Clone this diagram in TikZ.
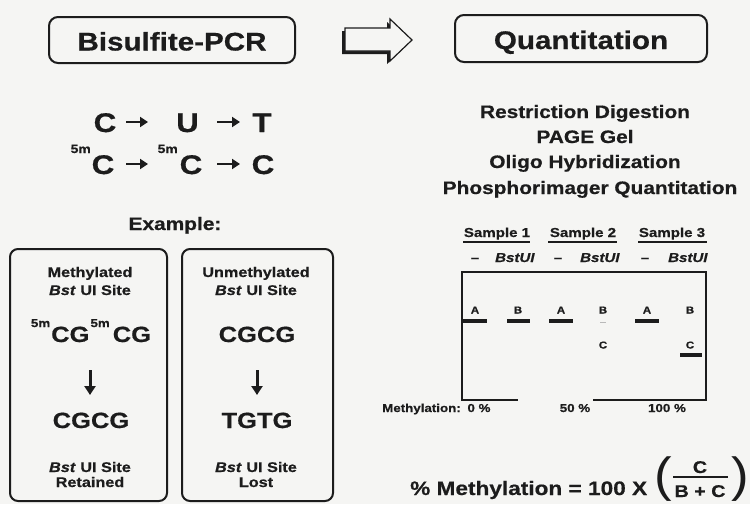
\documentclass[tikz,border=0pt]{standalone}
\usepackage{fontspec}
\setmainfont{Liberation Sans}[FakeStretch=1.16, FakeBold=0.6]
\newfontfamily\parenfont{Liberation Sans}[FakeStretch=1.1]
\usetikzlibrary{arrows.meta}
\definecolor{ink}{HTML}{1C1C1C}
\definecolor{paper}{HTML}{F5F5F3}
\newcommand{\fsz}[1]{\fontsize{#1}{#1}\selectfont}
\newcommand{\fivem}[1]{\raisebox{0.68em}{\fsz{#1}5m}}
\begin{document}
\begin{tikzpicture}[x=1pt,y=-1pt,
  txt/.style={inner sep=0pt, text=ink, font=\bfseries},
  ttl/.style={draw=ink, line width=2pt, rounded corners=9pt, inner sep=0pt, text=ink, text height=21pt, text depth=0pt},
  panel/.style={draw=ink, line width=2pt, rounded corners=8pt, inner sep=0pt},
  arr/.style={draw=ink, line width=2.6pt, -{Triangle[length=8pt,width=10pt]}},
  varr/.style={draw=ink, line width=3pt, -{Triangle[length=9pt,width=11pt]}},
  band/.style={draw=ink, line width=4pt},
  gel/.style={draw=ink, line width=1.8pt},
  big/.style={txt, font=\bfseries\fsz{27}, anchor=base},
  sm/.style={txt, font=\bfseries\fsz{14}, anchor=base},
  mid/.style={txt, font=\bfseries\fsz{22}, anchor=base},
  lst/.style={txt, font=\bfseries\fsz{18}, anchor=base},
  smp/.style={txt, font=\bfseries\fsz{13}, anchor=base},
  lbl/.style={txt, font=\bfseries\fsz{10}, anchor=base},
  pct/.style={txt, font=\bfseries\fsz{11.5}, anchor=base},
]
\fill[paper] (0,0) rectangle (750,504);
\useasboundingbox (0,0) rectangle (750,504);

% titles
\node[ttl, minimum width=246pt, minimum height=46pt, font=\bfseries\fsz{25.5}] (bis) at (172,40) {Bisulfite-PCR};
\node[ttl, minimum width=252pt, minimum height=47pt, font=\bfseries\fsz{25.5}] (quant) at (581,38.5) {Quantitation};

% hollow arrow
\fill[ink] (342,31) -- (387,31) -- (387,22) -- (409,43) -- (387,64) -- (387,54) -- (342,54) -- cycle;
\filldraw[fill=paper, draw=ink, line width=1.2pt] (345,28) -- (390,28) -- (390,19) -- (412,40) -- (390,61) -- (390,51) -- (345,51) -- cycle;

% conversions
\node[big] (c1) at (105,132) {C};
\node[big] (u1) at (187.5,132) {U};
\node[big] (t1) at (262,132) {T};
\node[txt, font=\bfseries\fsz{12}, anchor=base east] (m1) at (91,153) {5m};
\node[big] (c2) at (103,174) {C};
\node[txt, font=\bfseries\fsz{12}, anchor=base east] (m2) at (178,153) {5m};
\node[big] (c3) at (191,174) {C};
\node[big] (c4) at (263,174) {C};
\coordinate (p1) at (126,122); \coordinate (p2) at (148,122);
\coordinate (p3) at (217,122); \coordinate (p4) at (240,122);
\coordinate (q1) at (126,164); \coordinate (q2) at (148,164);
\coordinate (q3) at (217,164); \coordinate (q4) at (240,164);
\draw[arr] (p1) -- (p2);
\draw[arr] (p3) -- (p4);
\draw[arr] (q1) -- (q2);
\draw[arr] (q3) -- (q4);

% example
\node[txt, font=\bfseries\fsz{18}, anchor=base] (ex) at (175,230) {Example:};
\node[panel, minimum width=157pt, minimum height=252pt] (lbox) at (88.5,375) {};
\node[panel, minimum width=151pt, minimum height=252pt] (rbox) at (257.5,375) {};

\node[sm] (lt1) at (90,277) {Methylated};
\node[sm] (lt2) at (90,295) {\textit{Bst} UI Site};
\node[mid] (lt3) at (91,342) {\fivem{11.5}\kern1pt CG\kern1pt\fivem{11.5}\kern3pt CG};
\coordinate (la1) at (90,370); \coordinate (la2) at (90,395);
\draw[varr] (la1) -- (la2);
\node[mid] (lt4) at (91,428) {CGCG};
\node[sm] (lt5) at (90,472) {\textit{Bst} UI Site};
\node[sm] (lt6) at (90,487) {Retained};

\node[sm] (rt1) at (256,277) {Unmethylated};
\node[sm] (rt2) at (256,295) {\textit{Bst} UI Site};
\node[mid] (rt3) at (257,342) {CGCG};
\coordinate (ra1) at (257,370); \coordinate (ra2) at (257,395);
\draw[varr] (ra1) -- (ra2);
\node[mid] (rt4) at (257,428) {TGTG};
\node[sm] (rt5) at (256,472) {\textit{Bst} UI Site};
\node[sm] (rt6) at (256,487) {Lost};

% steps
\node[lst] (s1) at (585,118) {Restriction Digestion};
\node[lst] (s2) at (585,143) {PAGE Gel};
\node[lst] (s3) at (585,168) {Oligo Hybridization};
\node[lst] (s4) at (590,194) {Phosphorimager Quantitation};

% samples
\node[smp] (sa1) at (497,237) {Sample 1};
\node[smp] (sa2) at (583,237) {Sample 2};
\node[smp] (sa3) at (672,237) {Sample 3};
\draw[ink, line width=2.5pt] (463,242) -- (530,242);
\draw[ink, line width=2.5pt] (548,242) -- (617,242);
\draw[ink, line width=2.5pt] (638,242) -- (707,242);
\node[smp] (d1) at (475,262) {–};
\node[smp] (e1) at (515,262) {\textit{BstUI}};
\node[smp] (d2) at (558,262) {–};
\node[smp] (e2) at (600,262) {\textit{BstUI}};
\node[smp] (d3) at (645,262) {–};
\node[smp] (e3) at (688,262) {\textit{BstUI}};

% gel
\draw[gel] (593,400) -- (706,400) -- (706,272) -- (462,272) -- (462,400) -- (518,400);
\draw[band] (463,321) -- (487,321);
\draw[band] (507,321) -- (530,321);
\draw[band] (549,321) -- (573,321);
\draw[band] (635,321) -- (659,321);
\draw[band] (680,355) -- (702,355);
\draw[gray!55, line width=1pt] (600,322) -- (606,322);
\node[lbl] (g1) at (475,313.5) {A};
\node[lbl] (g2) at (518,313.5) {B};
\node[lbl] (g3) at (561,313.5) {A};
\node[lbl] (g4) at (603,313.5) {B};
\node[lbl] (g5) at (647,313.5) {A};
\node[lbl] (g6) at (690,313.5) {B};
\node[lbl] (g7) at (603,348.5) {C};
\node[lbl] (g8) at (690,348.5) {C};

% methylation row
\node[pct, anchor=base west] (mt) at (382,412) {Methylation:};
\node[pct] (mp1) at (479,412) {0 \%};
\node[pct] (mp2) at (575,412) {50 \%};
\node[pct] (mp3) at (667,412) {100 \%};

% formula
\node[txt, font=\bfseries\fsz{19.5}, anchor=base west] (f1) at (410,495) {\% Methylation = 100 X};
\node[txt, font=\parenfont\fsz{48}] (lp) at (663,479) {(};
\node[txt, font=\parenfont\fsz{48}] (rp) at (740,479) {)};
\node[txt, font=\bfseries\fsz{17}, anchor=base] (fn) at (700,473) {C};
\node[txt, font=\bfseries\fsz{17}, anchor=base] (fd) at (700,497) {B + C};
\draw[ink, line width=2pt] (673,477) -- (728,477);
\end{tikzpicture}
\end{document}
